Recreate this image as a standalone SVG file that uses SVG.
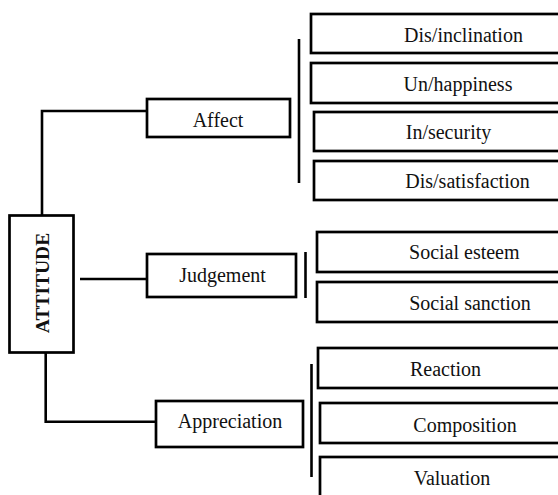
<svg xmlns="http://www.w3.org/2000/svg" width="558" height="495" viewBox="0 0 558 495">
<style>
.box{fill:#fff;stroke:#000;stroke-width:2.7}
.ln{fill:none;stroke:#000;stroke-width:2.6}
text{font-family:'Liberation Serif','Times New Roman',Times,'DejaVu Serif',serif;font-size:20px;fill:#111;text-anchor:middle}
.b{font-weight:bold;font-size:19.5px}
</style>
<rect width="558" height="495" fill="#fff"/>
<g id="connectors">
<polyline class="ln" points="42,216 42,111 147,111"/>
<line class="ln" x1="80" y1="279" x2="147" y2="279"/>
<polyline class="ln" points="45.7,352 45.7,421.7 156,421.7"/>
<line class="ln" x1="299" y1="39" x2="299" y2="183"/>
<line class="ln" x1="305.5" y1="252" x2="305.5" y2="298"/>
<line class="ln" x1="311.5" y1="364" x2="311.5" y2="477"/>
</g>
<g id="attitude"><rect class="box" x="9.5" y="215.5" width="64" height="137"/><text class="b" transform="translate(49,283) rotate(-90)">ATTITUDE</text></g>
<g id="affect"><rect class="box" x="147" y="99" width="143" height="38"/><text x="218" y="126.5">Affect</text></g>
<g id="judgement"><rect class="box" x="147" y="254" width="149" height="43"/><text x="222.5" y="281.5">Judgement</text></g>
<g id="appreciation"><rect class="box" x="156" y="401" width="147" height="46"/><text x="230" y="428.3">Appreciation</text></g>
<g id="disinclination"><rect class="box" x="311" y="14" width="300" height="39"/><text x="463.5" y="42">Dis/inclination</text></g>
<g id="unhappiness"><rect class="box" x="311" y="63" width="300" height="40"/><text x="458" y="90.5">Un/happiness</text></g>
<g id="insecurity"><rect class="box" x="314" y="112" width="300" height="39"/><text x="448.5" y="139.3">In/security</text></g>
<g id="dissatisfaction"><rect class="box" x="314" y="161" width="300" height="39"/><text x="467.5" y="187.5">Dis/satisfaction</text></g>
<g id="socialesteem"><rect class="box" x="317" y="232" width="300" height="40"/><text x="464.3" y="259">Social esteem</text></g>
<g id="socialsanction"><rect class="box" x="317" y="282" width="300" height="40"/><text x="470" y="310">Social sanction</text></g>
<g id="reaction"><rect class="box" x="318" y="348" width="300" height="40"/><text x="445.5" y="376">Reaction</text></g>
<g id="composition"><rect class="box" x="320" y="403" width="300" height="40"/><text x="465" y="431.5">Composition</text></g>
<g id="valuation"><rect class="box" x="320" y="457" width="300" height="60"/><text x="452" y="485">Valuation</text></g>
</svg>
